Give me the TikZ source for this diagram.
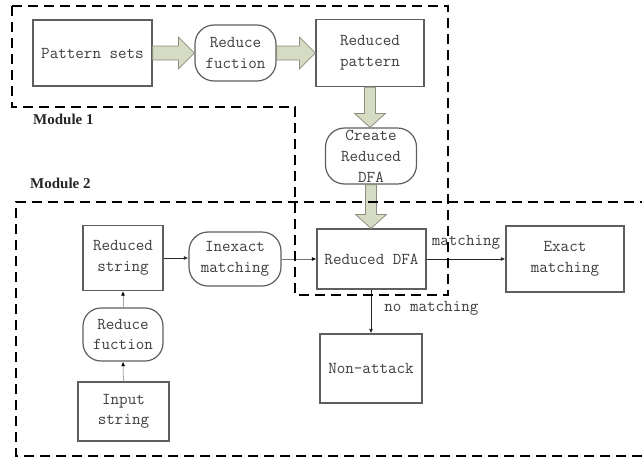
\documentclass[tikz,border=0pt]{standalone}
\usepackage{fontspec}
\setmainfont{Liberation Serif}
\usetikzlibrary{arrows.meta,calc}

\definecolor{boxline}{HTML}{5E5E5E}
\definecolor{boxtext}{HTML}{3E3E3E}
\definecolor{fatfill}{HTML}{D6DCC3}
\definecolor{fatline}{HTML}{8C8F80}

\newcommand{\boxfont}{\ttfamily\fontsize{16.6}{20.5}\selectfont}

\tikzset{
  box/.style={draw=boxline, line width=1.2pt, fill=white, text=boxtext,
    font=\boxfont, align=center, inner sep=0pt},
  rbox/.style={box, rounded corners=19pt},
  fat/.style={fill=fatfill, draw=fatline, line width=0.8pt, line join=miter},
  conn/.style={draw=black!85, line width=0.8pt, -{Latex[length=4.5pt,width=4pt]}},
  softconn/.style={draw=black!35, line width=0.8pt, -{Latex[length=4.5pt,width=4pt,black]}},
  edgelabel/.style={text=boxtext, font=\ttfamily\fontsize{16.6}{18}\selectfont, inner sep=0pt},
  modframe/.style={draw=black, line width=2.3pt, dash pattern=on 10pt off 6pt},
  modlabel/.style={font=\bfseries\fontsize{15}{16}\selectfont, text=black!85, inner sep=0pt, anchor=west}
}

% wide block arrows between two nodes
\newcommand{\fatright}[2]{%
  \draw[fat] let \p1=(#1.east), \p2=(#2.west) in
    (\x1,\y1+7pt) -- (\x2-16pt,\y1+7pt) -- (\x2-16pt,\y1+16pt) -- (\x2,\y1)
    -- (\x2-16pt,\y1-16pt) -- (\x2-16pt,\y1-7pt) -- (\x1,\y1-7pt) -- cycle;}
\newcommand{\fatdown}[2]{%
  \draw[fat] let \p1=(#1.south), \p2=(#2.north) in
    (\x1-5.5pt,\y1) -- (\x1-5.5pt,\y2+14pt) -- (\x1-15.5pt,\y2+14pt) -- (\x1,\y2)
    -- (\x1+15.5pt,\y2+14pt) -- (\x1+5.5pt,\y2+14pt) -- (\x1+5.5pt,\y1) -- cycle;}

\begin{document}
\begin{tikzpicture}[x=1pt,y=-1pt]
\useasboundingbox (0,0) rectangle (642,458);

% Module 1 nodes
\node[box, minimum width=119pt, minimum height=66pt] (pat) at (92.5,53) {Pattern sets};
\node[rbox, minimum width=81pt, minimum height=56pt] (rf1) at (235.5,53) {Reduce\\fuction};
\node[box, minimum width=108pt, minimum height=67pt] (rp) at (370,53) {Reduced\\pattern};
\node[rbox, minimum width=91pt, minimum height=56pt, font=\ttfamily\fontsize{16.6}{21}\selectfont] (crd) at (371,156) {Create\\Reduced\\DFA};

% Module 2 nodes
\node[box, minimum width=80pt, minimum height=65pt] (rs) at (123,258) {Reduced\\string};
\node[rbox, minimum width=80pt, minimum height=53pt, rounded corners=18pt] (rf2) at (123,334.5) {Reduce\\fuction};
\node[box, minimum width=91pt, minimum height=59pt] (inp) at (123.5,411.5) {Input\\string};
\node[rbox, minimum width=92pt, minimum height=54pt] (ie) at (235,259) {Inexact\\matching};
\node[box, minimum width=109pt, minimum height=60pt] (dfa) at (371.5,259) {Reduced DFA};
\node[box, minimum width=118pt, minimum height=66pt] (ex) at (565,259) {Exact\\matching};
\node[box, minimum width=102pt, minimum height=69pt] (na) at (371,368.5) {Non-attack};

% block arrows
\fatright{pat}{rf1}
\fatright{rf1}{rp}
\fatdown{rp}{crd}
\fatdown{crd}{dfa}

% thin connectors
\draw[softconn] (inp.north) -- (rf2.south);
\draw[softconn] (rf2.north) -- (rs.south);
\draw[conn] (rs.east) -- (rs.east -| ie.west);
\draw[softconn, draw=black!55] (ie.east) -- (dfa.west);
\draw[conn] (dfa.east) -- node[edgelabel, above=9pt] {matching} (ex.west);
\draw[conn] (dfa.south -| na.north) -- node[edgelabel, pos=0.42, anchor=west, xshift=13pt] {no matching} (na.north);

% module frames
\draw[modframe] (12,6) -- (448,6) -- (448,295) -- (295,295) -- (295,107) -- (12,107) -- cycle;
\draw[modframe] (650,202) -- (16,202) -- (16,456) -- (650,456);
\node[modlabel] (m1) at (33,119) {Module 1};
\node[modlabel] (m2) at (30,183) {Module 2};
\end{tikzpicture}
\end{document}
